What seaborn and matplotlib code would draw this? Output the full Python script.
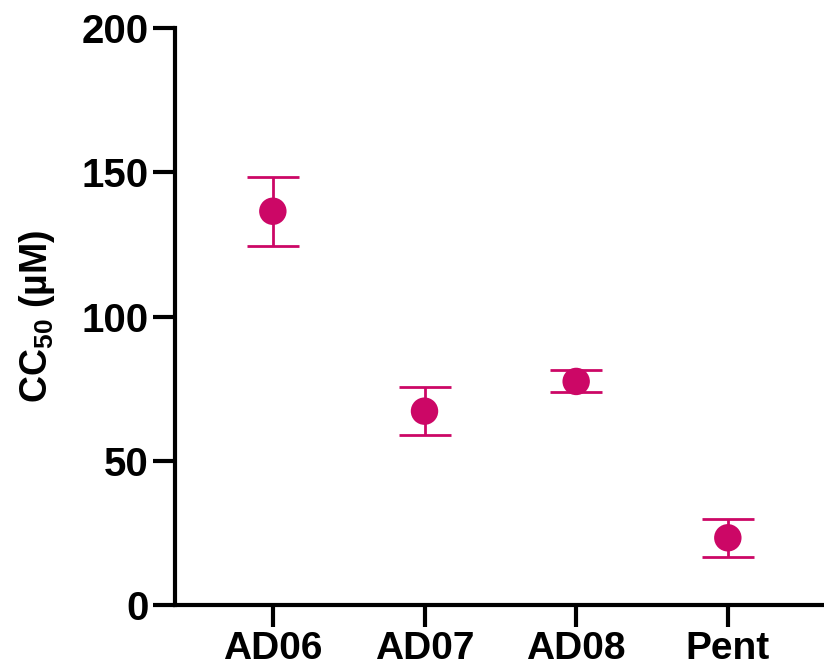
import matplotlib
matplotlib.use("Agg")
import matplotlib.pyplot as plt
import seaborn as sns
import numpy as np
import pandas as pd

# Values
compounds = ["AD06", "AD07", "AD08", "Pent"]
cc50_mean = [136.5, 67.2, 77.5, 23.3]
cc50_upper = [148.4, 75.6, 81.5, 29.9]
cc50_lower = [124.5, 59.0, 73.7, 16.7]

color = "#CC0766"

sns.set_style("ticks")
plt.rcParams["font.family"] = ["Liberation Sans", "DejaVu Sans"]
plt.rcParams["font.weight"] = "bold"
plt.rcParams["mathtext.fontset"] = "custom"
plt.rcParams["mathtext.bf"] = "Liberation Sans:bold"
plt.rcParams["mathtext.rm"] = "Liberation Sans:bold"
plt.rcParams["mathtext.default"] = "bf"

df = pd.DataFrame({"compound": compounds, "cc50": cc50_mean})

fig = plt.figure(figsize=(8.24, 6.68), dpi=100)
ax = fig.add_axes([0.2124, 0.0943, 0.785, 0.8637])

sns.scatterplot(data=df, x="compound", y="cc50", color=color, s=390,
                edgecolor="none", zorder=3, ax=ax, legend=False)

means = np.array(cc50_mean)
yerr = [means - np.array(cc50_lower), np.array(cc50_upper) - means]
ax.errorbar(compounds, cc50_mean, yerr=yerr, fmt="none", ecolor=color,
            elinewidth=2, capsize=19, capthick=2, zorder=2)

ax.set_xlim(-0.645, 3.62)
ax.set_ylim(0, 200)
ax.set_yticks([0, 50, 100, 150, 200])

ax.set_xlabel("")
ax.set_ylabel("CC$_{50}$ (µM)", fontsize=27, fontweight="bold",
              color="black", labelpad=18)

for s in ["top", "right"]:
    ax.spines[s].set_visible(False)
for s in ["left", "bottom"]:
    ax.spines[s].set_linewidth(3)
    ax.spines[s].set_color("black")

ax.tick_params(axis="both", length=16, width=3, colors="black", labelsize=29)
ax.tick_params(axis="x", pad=3, labelsize=28)
ax.tick_params(axis="y", pad=3)
for lab in ax.get_xticklabels() + ax.get_yticklabels():
    lab.set_fontweight("bold")

plt.savefig("out.png", dpi=100)
